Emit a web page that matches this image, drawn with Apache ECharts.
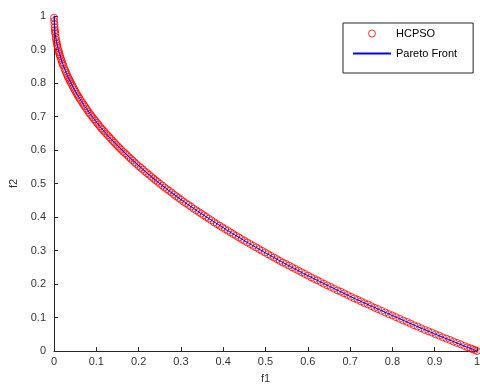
<!DOCTYPE html>
<html><head><meta charset="utf-8">
<script src="https://cdn.jsdelivr.net/npm/echarts@6/dist/echarts.min.js"></script>
<style>html,body{margin:0;padding:0;background:#fff}#c{width:480px;height:385px}</style>
</head><body><div id="c"></div>
<script>
// HCPSO solutions [f1, f2]
var hcpsoPoints = [[0.000,0.995],[0.001,0.975],[0.002,0.958],[0.003,0.947],[0.004,0.937],[0.005,0.929],[0.007,0.917],[0.009,0.905],[0.011,0.896],[0.013,0.886],[0.016,0.874],[0.019,0.862],[0.022,0.852],[0.025,0.842],[0.029,0.83],[0.033,0.818],[0.037,0.808],[0.041,0.798],[0.046,0.786],[0.051,0.774],[0.056,0.763],[0.061,0.753],[0.067,0.741],[0.073,0.73],[0.079,0.719],[0.085,0.708],[0.091,0.698],[0.098,0.687],[0.105,0.676],[0.112,0.665],[0.119,0.655],[0.127,0.644],[0.135,0.633],[0.143,0.622],[0.151,0.611],[0.159,0.601],[0.168,0.59],[0.177,0.579],[0.186,0.569],[0.195,0.558],[0.205,0.547],[0.215,0.536],[0.225,0.526],[0.235,0.515],[0.245,0.505],[0.256,0.494],[0.267,0.483],[0.278,0.473],[0.289,0.462],[0.3,0.452],[0.312,0.441],[0.324,0.431],[0.336,0.42],[0.348,0.41],[0.36,0.4],[0.372,0.39],[0.385,0.379],[0.398,0.369],[0.411,0.359],[0.424,0.349],[0.437,0.339],[0.45,0.329],[0.464,0.319],[0.478,0.309],[0.492,0.299],[0.506,0.289],[0.52,0.279],[0.534,0.269],[0.548,0.26],[0.563,0.25],[0.578,0.24],[0.593,0.23],[0.608,0.22],[0.623,0.211],[0.638,0.201],[0.654,0.191],[0.67,0.181],[0.686,0.172],[0.702,0.162],[0.718,0.153],[0.734,0.143],[0.75,0.134],[0.766,0.125],[0.783,0.115],[0.8,0.106],[0.817,0.096],[0.834,0.087],[0.851,0.077],[0.868,0.068],[0.885,0.059],[0.902,0.05],[0.919,0.041],[0.936,0.033],[0.953,0.024],[0.97,0.015],[0.985,0.008],[0.995,0.003],[1.0,0.0],
[0.0005,0.985],[0.0015,0.966],[0.0025,0.952],[0.006,0.922],[0.008,0.911],[0.012,0.891],[0.014,0.881],[0.0175,0.868],[0.0205,0.857],[0.027,0.836],[0.031,0.824],[0.035,0.813],[0.039,0.803],[0.0435,0.792],[0.0485,0.78],[0.0535,0.768],[0.0585,0.758],[0.064,0.747],[0.07,0.735],[0.076,0.724],[0.082,0.713],[0.088,0.703],[0.0945,0.692],[0.1015,0.681],[0.1085,0.67],[0.1155,0.66],[0.123,0.649],[0.131,0.638],[0.139,0.627],[0.147,0.616],[0.155,0.606],[0.1635,0.595],[0.1725,0.585],[0.1815,0.574],[0.1905,0.563],[0.2,0.552],[0.21,0.542],[0.22,0.531],[0.23,0.52],[0.24,0.51],[0.2505,0.499],[0.2615,0.488],[0.2725,0.478],[0.2835,0.467],[0.2945,0.457],[0.306,0.446],[0.318,0.436],[0.33,0.425],[0.342,0.415],[0.354,0.405],[0.366,0.395],[0.3785,0.384],[0.3915,0.374],[0.4045,0.364],[0.4175,0.354],[0.4305,0.344],[0.4435,0.334],[0.457,0.324],[0.471,0.314],[0.485,0.304],[0.499,0.294],[0.513,0.284],[0.527,0.274],[0.541,0.264],[0.5555,0.255],[0.5705,0.245],[0.5855,0.235],[0.6005,0.225],[0.6155,0.215],[0.6305,0.206],[0.646,0.196],[0.662,0.186],[0.678,0.177],[0.694,0.167],[0.71,0.157],[0.726,0.148],[0.742,0.139],[0.758,0.129],[0.7745,0.12],[0.7915,0.11],[0.8085,0.101],[0.8255,0.091],[0.8425,0.082],[0.8595,0.073],[0.8765,0.063],[0.8935,0.055],[0.9105,0.046],[0.9275,0.037],[0.9445,0.028],[0.9615,0.02],[0.9775,0.011],[0.99,0.005]];
// Pareto front line [f1, f2]
var paretoPoints = [[0,1],[0.001,0.968],[0.003,0.945],[0.006,0.923],[0.01,0.9],[0.02,0.859],[0.03,0.827],[0.04,0.8],[0.05,0.776],[0.07,0.735],[0.09,0.7],[0.11,0.668],[0.13,0.639],[0.15,0.613],[0.18,0.576],[0.21,0.542],[0.24,0.51],[0.27,0.48],[0.3,0.452],[0.34,0.417],[0.38,0.384],[0.42,0.352],[0.46,0.322],[0.5,0.293],[0.55,0.258],[0.6,0.225],[0.65,0.194],[0.7,0.163],[0.75,0.134],[0.8,0.106],[0.85,0.078],[0.9,0.051],[0.95,0.025],[1.0,0]];
var seriesNames = ['HCPSO', 'Pareto Front'];
var axisNames = ['f1', 'f2'];

var chart = echarts.init(document.getElementById('c'), null, {renderer: 'canvas'});
var font = 'Arial, "Liberation Sans", sans-serif';
var axisCommon = {
  min: 0, max: 1, interval: 0.1,
  axisLine: {show: true, onZero: false, lineStyle: {color: '#262626', width: 1}},
  axisTick: {show: true, inside: true, length: 4, lineStyle: {color: '#262626'}},
  splitLine: {show: false},
  axisLabel: {color: '#333', fontSize: 11, fontFamily: font, showMaxLabel: true, showMinLabel: true,
    formatter: function (v) { return String(Math.round(v * 10) / 10); }},
  nameTextStyle: {color: '#333', fontSize: 11, fontFamily: font}
};
chart.setOption({
  animation: false,
  color: ['#ff0000', '#0000ff'],
  grid: {left: 54, right: 3, top: 16, bottom: 34, containLabel: false, outerBoundsMode: 'none'},
  xAxis: Object.assign({}, axisCommon, {type: 'value', name: axisNames[0], nameLocation: 'middle', nameGap: 22,
    axisLabel: Object.assign({}, axisCommon.axisLabel, {margin: 5})}),
  yAxis: Object.assign({}, axisCommon, {type: 'value', name: axisNames[1], nameLocation: 'middle', nameGap: 34,
    axisLabel: Object.assign({}, axisCommon.axisLabel, {margin: 8})}),
  legend: {
    left: 343, top: 23, orient: 'vertical',
    backgroundColor: '#fff', borderColor: '#262626', borderWidth: 1,
    padding: [5, 16, 14, 9], itemGap: 9, itemWidth: 38, itemHeight: 7,
    textStyle: {color: '#000', fontSize: 11, fontFamily: font, padding: [0, 0, 0, 0]},
    data: [
      {name: seriesNames[0], icon: 'circle', itemStyle: {color: 'rgba(0,0,0,0)', borderColor: '#ff0000', borderWidth: 1}},
      {name: seriesNames[1], itemStyle: {color: 'rgba(0,0,0,0)', borderColor: 'rgba(0,0,0,0)', borderWidth: 0, opacity: 0}}
    ]
  },
  series: [
    {name: seriesNames[0], type: 'scatter', data: hcpsoPoints, symbol: 'circle', symbolSize: 7,
      itemStyle: {color: 'rgba(0,0,0,0)', borderColor: '#ff0000', borderWidth: 1}, z: 2},
    {name: seriesNames[1], type: 'line', data: paretoPoints, symbol: 'none', showSymbol: false, color: '#0000ff',
      lineStyle: {color: '#0000ff', width: 1}, itemStyle: {color: '#0000ff'}, z: 3}
  ]
});
</script></body></html>
